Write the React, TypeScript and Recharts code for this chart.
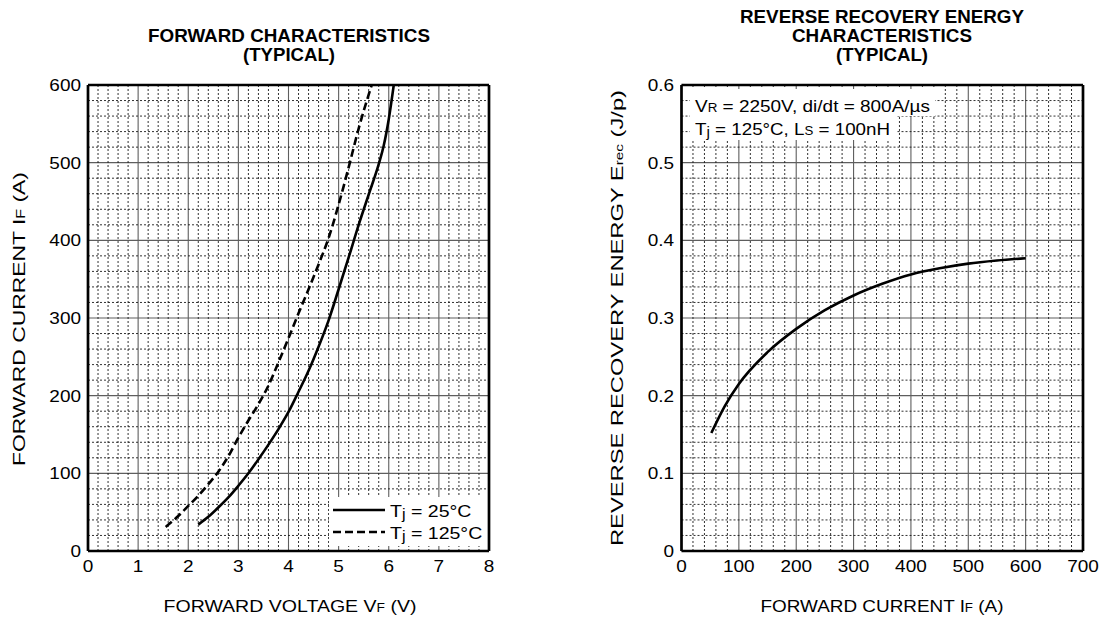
import React from 'react';
import { LineChart, Line, XAxis, YAxis, CartesianGrid, ReferenceLine, Legend } from 'recharts';

const FONT = '"Liberation Sans", Arial, Helvetica, sans-serif';

// ---------- Forward characteristics ----------
const vfTicks = [0, 1, 2, 3, 4, 5, 6, 7, 8];
const ifTicks = [0, 100, 200, 300, 400, 500, 600];
const vf25 = [2.2, 2.4, 2.6, 2.8, 3.0, 3.2, 3.4, 3.6, 3.8, 4.0, 4.2, 4.4, 4.6, 4.8, 5.0, 5.2, 5.4, 5.6, 5.8, 5.9, 6.0, 6.1];
const if25 = [34, 44, 56, 69, 84, 100, 118, 137, 157, 179, 205, 232, 263, 297, 337, 378, 420, 459, 498, 522, 556, 600];
const vf125 = [1.55, 1.8, 2.0, 2.2, 2.4, 2.6, 2.8, 3.0, 3.2, 3.4, 3.6, 3.8, 4.0, 4.2, 4.4, 4.6, 4.8, 5.0, 5.2, 5.4, 5.66];
const if125 = [31, 45, 58, 71, 86, 102, 122, 146, 168, 189, 213, 243, 274, 306, 337, 369, 403, 446, 494, 544, 600];
const seriesNames = ['25', '125'];
const seriesDash = [undefined, '8 4'];

// ---------- Reverse recovery energy ----------
const ifrTicks = [0, 100, 200, 300, 400, 500, 600, 700];
const erecTicks = [0, 0.1, 0.2, 0.3, 0.4, 0.5, 0.6];
const erecIf = [52, 75, 100, 150, 200, 250, 300, 350, 400, 450, 500, 550, 600];
const erecVal = [0.152, 0.186, 0.215, 0.256, 0.286, 0.31, 0.329, 0.344, 0.356, 0.364, 0.37, 0.374, 0.377];

const d25 = vf25.map((v, k) => ({ v, i: if25[k] }));
const d125 = vf125.map((v, k) => ({ v, i: if125[k] }));
const dErec = erecIf.map((f, k) => ({ f, e: erecVal[k] }));

// minor grid positions between major ticks (5 subdivisions)
const minorBetween = (ticks: number[], parts: number) => {
  const out: number[] = [];
  for (let k = 0; k < ticks.length - 1; k++) {
    const a = ticks[k];
    const b = ticks[k + 1];
    for (let j = 1; j < parts; j++) out.push(a + ((b - a) * j) / parts);
  }
  return out;
};
const minorVf = minorBetween(vfTicks, 5);
const minorIf = minorBetween(ifTicks, 5);
const minorIfr = minorBetween(ifrTicks, 5);
const minorErec = minorBetween(erecTicks, 5);

const TICK_SIZE = 16.5;
const TICK_SX = 1.15;

const makeXTick = (baseline: number) => (props: any) => {
  const { x, payload } = props;
  return (
    <g transform={`translate(${x},${baseline}) scale(${TICK_SX},1)`}>
      <text x={0} y={0} textAnchor="middle" fontSize={TICK_SIZE} fontFamily={FONT} fill="#000">
        {String(payload.value)}
      </text>
    </g>
  );
};
const makeYTick = (right: number) => (props: any) => {
  const { y, payload } = props;
  return (
    <g transform={`translate(${right},${y + 6}) scale(${TICK_SX},1)`}>
      <text x={0} y={0} textAnchor="end" fontSize={TICK_SIZE} fontFamily={FONT} fill="#000">
        {String(payload.value)}
      </text>
    </g>
  );
};

const MINOR = { stroke: '#1a1a1a', strokeDasharray: '2 2', strokeWidth: 0.9 };
const FRAME = { stroke: '#000', strokeWidth: 2.7 };

const LegendBox = () => (
  <svg width={158} height={49} style={{ display: 'block' }}>
    <rect x={0} y={0} width={158} height={49} fill="#fff" />
    {seriesNames.map((name, k) => {
      const ly = k === 0 ? 13 : 35;
      const ty = k === 0 ? 20 : 41.5;
      return (
        <g key={name}>
          <line x1={4} x2={56} y1={ly} y2={ly} stroke="#000" strokeWidth={2.6} strokeDasharray={seriesDash[k]} />
          <g transform={`translate(61,${ty}) scale(${TICK_SX},1)`}>
            <text x={0} y={0} fontSize={17} fontFamily={FONT} fill="#000">
              T<tspan fontSize={14} dy={2}>j</tspan>
              <tspan dy={-2}>{` = ${name}°C`}</tspan>
            </text>
          </g>
        </g>
      );
    })}
  </svg>
);

const T = (p: any) => (
  <text
    x={p.x}
    y={p.y}
    textAnchor={p.anchor || 'middle'}
    fontSize={p.size || 17}
    fontWeight={p.bold ? 'bold' : 'normal'}
    fontFamily={FONT}
    fill="#000"
    textLength={p.len}
    lengthAdjust="spacingAndGlyphs"
    transform={p.transform}
  >
    {p.children}
  </text>
);

export default function App() {
  return (
    <div style={{ position: 'absolute', left: 0, top: 0, width: 1100, height: 621, background: '#fff', overflow: 'hidden' }}>
      {/* Left chart */}
      <div style={{ position: 'absolute', left: 0, top: 0 }}>
        <LineChart width={540} height={621} margin={{ top: 85, right: 51, bottom: 30, left: 28 }}>
          <CartesianGrid stroke="#5e5e5e" strokeWidth={1.1} />
          {minorVf.map((v) => (
            <ReferenceLine key={'mx' + v} x={v} {...MINOR} />
          ))}
          {minorIf.map((v) => (
            <ReferenceLine key={'my' + v} y={v} {...MINOR} />
          ))}
          <XAxis
            type="number"
            dataKey="v"
            domain={[0, 8]}
            ticks={vfTicks}
            height={40}
            axisLine={false}
            tickLine={false}
            tick={makeXTick(572)}
            interval={0}
          />
          <YAxis
            type="number"
            domain={[0, 600]}
            ticks={ifTicks}
            width={60}
            axisLine={false}
            tickLine={false}
            tick={makeYTick(81)}
            interval={0}
          />
          <Line data={d25} dataKey="i" name={seriesNames[0]} type="monotone" stroke="#000" strokeWidth={2.6} dot={false} isAnimationActive={false} />
          <Line data={d125} dataKey="i" name={seriesNames[1]} type="monotone" stroke="#000" strokeWidth={2.6} strokeDasharray={seriesDash[1]} dot={false} isAnimationActive={false} />
          <ReferenceLine x={0} {...FRAME} />
          <ReferenceLine x={8} {...FRAME} />
          <ReferenceLine y={0} {...FRAME} />
          <ReferenceLine y={600} {...FRAME} />
          <Legend
            layout="horizontal"
            verticalAlign="middle"
            align="center"
            content={LegendBox}
            wrapperStyle={{ left: 329, top: 497, width: 158, height: 49 }}
          />
        </LineChart>
      </div>

      {/* Right chart */}
      <div style={{ position: 'absolute', left: 540, top: 0 }}>
        <LineChart width={560} height={621} margin={{ top: 85, right: 17, bottom: 30, left: 81.5 }}>
          <CartesianGrid stroke="#5e5e5e" strokeWidth={1.1} />
          {minorIfr.map((v) => (
            <ReferenceLine key={'rx' + v} x={v} {...MINOR} />
          ))}
          {minorErec.map((v) => (
            <ReferenceLine key={'ry' + v} y={v} {...MINOR} />
          ))}
          <XAxis
            type="number"
            dataKey="f"
            domain={[0, 700]}
            ticks={ifrTicks}
            height={40}
            axisLine={false}
            tickLine={false}
            tick={makeXTick(572)}
            interval={0}
          />
          <YAxis
            type="number"
            domain={[0, 0.6]}
            ticks={erecTicks}
            width={60}
            axisLine={false}
            tickLine={false}
            tick={makeYTick(134)}
            interval={0}
          />
          <Line data={dErec} dataKey="e" type="monotone" stroke="#000" strokeWidth={2.6} dot={false} isAnimationActive={false} />
          <ReferenceLine x={0} {...FRAME} />
          <ReferenceLine x={700} {...FRAME} />
          <ReferenceLine y={0} {...FRAME} />
          <ReferenceLine y={0.6} {...FRAME} />
        </LineChart>
      </div>

      {/* Text overlay */}
      <svg width={1100} height={621} style={{ position: 'absolute', left: 0, top: 0, pointerEvents: 'none' }}>
        <T x={289} y={42} bold size={18} len={282}>FORWARD CHARACTERISTICS</T>
        <T x={289} y={61} bold size={18} len={92}>(TYPICAL)</T>
        <T x={882} y={23} bold size={18} len={284}>REVERSE RECOVERY ENERGY</T>
        <T x={882} y={42} bold size={18} len={180}>CHARACTERISTICS</T>
        <T x={882} y={61} bold size={18} len={92}>(TYPICAL)</T>

        <T x={290} y={612} len={253}>
          FORWARD VOLTAGE V<tspan fontSize={12}>F</tspan> (V)
        </T>
        <T x={882} y={612} len={243}>
          FORWARD CURRENT I<tspan fontSize={12}>F</tspan> (A)
        </T>
        <T x={0} y={0} len={294} transform="translate(25,319) rotate(-90)">
          FORWARD CURRENT I<tspan fontSize={12}>F</tspan> (A)
        </T>
        <T x={0} y={0} len={456} transform="translate(623,318) rotate(-90)">
          REVERSE RECOVERY ENERGY E<tspan fontSize={11}>rec</tspan> (J/p)
        </T>

        <rect x={690} y={89} width={245} height={27} fill="#fff" />
        <rect x={690} y={116} width={207} height={24} fill="#fff" />
        <T x={695} y={111.5} anchor="start" len={235}>
          V<tspan fontSize={12}>R</tspan> = 2250V, di/dt = 800A/µs
        </T>
        <T x={695} y={134.5} anchor="start" len={195}>
          T<tspan fontSize={14} dy={2}>j</tspan>
          <tspan dy={-2}> = 125°C, L</tspan>
          <tspan fontSize={12}>S</tspan> = 100nH
        </T>
      </svg>
    </div>
  );
}
